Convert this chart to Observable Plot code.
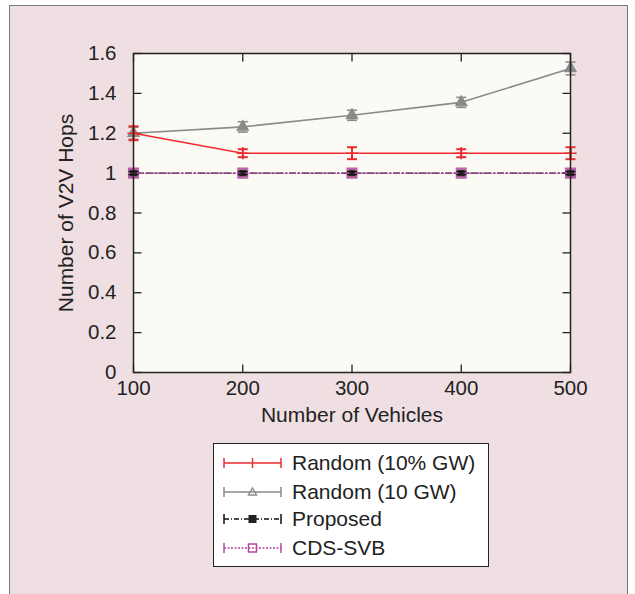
<!DOCTYPE html>
<html>
<head>
<meta charset="utf-8">
<script src="https://cdn.jsdelivr.net/npm/d3@7"></script>
<script src="https://cdn.jsdelivr.net/npm/@observablehq/plot@0.6"></script>
<style>
  html, body { margin:0; padding:0; background:#fff; overflow:hidden; }
  #wrap { position:relative; width:635px; height:594px; overflow:hidden; font-family:"Liberation Sans", Arial, Helvetica, sans-serif; }
  #frame { position:absolute; left:9px; top:5px; width:619px; height:600px; background:#efdfe2; border:1.5px solid #7a7a7a; box-sizing:border-box; }
  #chart { position:absolute; left:0; top:0; }
  #legend { position:absolute; left:213px; top:443px; width:276px; height:124px; background:#fff; border:1.5px solid #222; box-sizing:border-box; }
  .row { position:absolute; left:0; height:24px; display:flex; align-items:center; }
  .row svg { margin-left:9px; }
  .row span { margin-left:7px; font-size:21px; color:#222; line-height:24px; }
</style>
</head>
<body>
<div id="wrap">
  <div id="frame"></div>
  <div id="chart"></div>
  <div id="legend"></div>
</div>
<script>
// ---- data ----
const vehicles = [100, 200, 300, 400, 500];
const random10pct = [1.2, 1.1, 1.1, 1.1, 1.1];
const random10pctErr = [0.035, 0.02, 0.03, 0.02, 0.03];
const random10gw = [1.2, 1.232, 1.29, 1.355, 1.525];
const random10gwErr = [0.03, 0.026, 0.025, 0.025, 0.032];
const proposed = [1, 1, 1, 1, 1];
const proposedErr = [0.008, 0.008, 0.008, 0.008, 0.008];
const cdssvb = [1, 1, 1, 1, 1];
const cdssvbErr = [0.008, 0.008, 0.008, 0.008, 0.008];
const seriesNames = ["Random (10% GW)", "Random (10 GW)", "Proposed", "CDS-SVB"];
const xTicks = [100, 200, 300, 400, 500];
const yTicks = [0, 0.2, 0.4, 0.6, 0.8, 1, 1.2, 1.4, 1.6];
const yTickLabels = ["0", "0.2", "0.4", "0.6", "0.8", "1", "1.2", "1.4", "1.6"];
const xLabel = "Number of Vehicles";
const yLabel = "Number of V2V Hops";

const colors = {red: "#ee2a2f", gray: "#8a8a8a", black: "#111", magenta: "#b347a0"};

function rows(vals, errs, name) {
  return vehicles.map((x, i) => ({x, y: vals[i], lo: vals[i] - errs[i], hi: vals[i] + errs[i], name}));
}
const dRed = rows(random10pct, random10pctErr, seriesNames[0]);
const dGray = rows(random10gw, random10gwErr, seriesNames[1]);
const dProp = rows(proposed, proposedErr, seriesNames[2]);
const dCds = rows(cdssvb, cdssvbErr, seriesNames[3]);

// custom symbols
const capSym = {draw(ctx) { ctx.moveTo(-5, 0); ctx.lineTo(5, 0); }};
const tickIn = (dx, dy) => ({draw(ctx) { ctx.moveTo(0, 0); ctx.lineTo(dx, dy); }});

function errMarks(d, color, w) {
  return [
    Plot.ruleX(d, {x: "x", y1: "lo", y2: "hi", stroke: color, strokeWidth: w}),
    Plot.dot(d, {x: "x", y: "lo", symbol: capSym, stroke: color, strokeWidth: w, fill: "none"}),
    Plot.dot(d, {x: "x", y: "hi", symbol: capSym, stroke: color, strokeWidth: w, fill: "none"})
  ];
}

const chart = Plot.plot({
  width: 635,
  height: 430,
  marginLeft: 133,
  marginRight: 65,
  marginTop: 53,
  marginBottom: 58,
  style: {background: "transparent", fontFamily: "'Liberation Sans', Arial, Helvetica, sans-serif", fontSize: "20px", color: "#222"},
  x: {domain: [100, 500]},
  y: {domain: [0, 1.6]},
  marks: [
    Plot.frame({fill: "#fbfaf5", stroke: "none"}),
    // inward ticks on all four sides
    Plot.dot(yTicks, {x: () => 100, y: d => d, symbol: tickIn(8, 0), stroke: "#222", strokeWidth: 1.3, fill: "none"}),
    Plot.dot(yTicks, {x: () => 500, y: d => d, symbol: tickIn(-8, 0), stroke: "#222", strokeWidth: 1.3, fill: "none"}),
    Plot.dot(xTicks, {x: d => d, y: () => 0, symbol: tickIn(0, -8), stroke: "#222", strokeWidth: 1.3, fill: "none"}),
    Plot.dot(xTicks, {x: d => d, y: () => 1.6, symbol: tickIn(0, 8), stroke: "#222", strokeWidth: 1.3, fill: "none"}),
    Plot.axisX({ticks: xTicks, tickSize: 0, tickPadding: 8, label: null, fontSize: 20.5}),
    Plot.axisY({ticks: yTicks, tickSize: 0, tickPadding: 17, label: null, fontSize: 20.5,
      tickFormat: d => yTickLabels[yTicks.findIndex(t => Math.abs(t - d) < 1e-9)]}),
    Plot.text([xLabel], {text: d => d, frameAnchor: "bottom", textAnchor: "middle", dy: 43, lineAnchor: "middle", fontSize: 21, fill: "#222"}),
    Plot.text([yLabel], {text: d => d, frameAnchor: "left", textAnchor: "middle", dx: -67, rotate: -90, fontSize: 21, fill: "#222"}),
    // lines
    Plot.line(dGray, {x: "x", y: "y", stroke: colors.gray, strokeWidth: 1.6}),
    ...errMarks(dGray, colors.gray, 1.6),
    Plot.dot(dGray, {x: "x", y: "y", symbol: "triangle", r: 4, fill: colors.gray, stroke: colors.gray}),
    Plot.line(dRed, {x: "x", y: "y", stroke: colors.red, strokeWidth: 1.6}),
    ...errMarks(dRed, colors.red, 2),
    Plot.dot(dRed, {x: "x", y: "y", symbol: "plus", r: 4, stroke: colors.red, strokeWidth: 1.6}),
    Plot.line(dProp, {x: "x", y: "y", stroke: colors.black, strokeWidth: 1.3, strokeDasharray: "6,3,1,3"}),
    Plot.line(dCds, {x: "x", y: "y", stroke: colors.magenta, strokeWidth: 1.4, strokeDasharray: "2,2"}),
    Plot.dot(dProp, {x: "x", y: "y", symbol: "square", r: 4, fill: "#333", stroke: "none"}),
    Plot.dot(dCds, {x: "x", y: "y", symbol: "square", r: 5, fill: "none", stroke: colors.magenta, strokeWidth: 2.2, strokeOpacity: 0.85}),
    ...errMarks(dProp, colors.black, 1.3),
    Plot.frame({stroke: "#222", strokeWidth: 1.5})
  ]
});
document.getElementById("chart").appendChild(chart);

// legend
const legendSpecs = [
  {name: seriesNames[0], color: colors.red, dash: null, marker: "plus"},
  {name: seriesNames[1], color: colors.gray, dash: null, marker: "triangle"},
  {name: seriesNames[2], color: colors.black, dash: "5,2,1,2", marker: "fsquare"},
  {name: seriesNames[3], color: colors.magenta, dash: "2,1.5", marker: "hsquare"}
];
const rowTops = [7, 36, 63, 92];
const legend = document.getElementById("legend");
legendSpecs.forEach((s, i) => {
  const row = document.createElement("div");
  row.className = "row";
  row.style.top = rowTops[i] + "px";
  const ns = "http://www.w3.org/2000/svg";
  const svg = document.createElementNS(ns, "svg");
  svg.setAttribute("width", 62); svg.setAttribute("height", 16);
  const add = (tag, attrs) => { const e = document.createElementNS(ns, tag); for (const k in attrs) e.setAttribute(k, attrs[k]); svg.appendChild(e); return e; };
  const ln = add("line", {x1: 1, x2: 58, y1: 8, y2: 8, stroke: s.color, "stroke-width": 1.5});
  if (s.dash) ln.setAttribute("stroke-dasharray", s.dash);
  add("line", {x1: 1, x2: 1, y1: 3, y2: 13, stroke: s.color, "stroke-width": 1.5});
  add("line", {x1: 58, x2: 58, y1: 3, y2: 13, stroke: s.color, "stroke-width": 1.5});
  if (s.marker === "plus") {
    add("line", {x1: 29.5, x2: 29.5, y1: 3, y2: 13, stroke: s.color, "stroke-width": 1.5});
  } else if (s.marker === "triangle") {
    add("path", {d: "M29.5,4 L33.5,11 L25.5,11 Z", fill: "none", stroke: s.color, "stroke-width": 1.4});
  } else if (s.marker === "fsquare") {
    add("rect", {x: 25.5, y: 4, width: 8, height: 8, fill: "#222"});
  } else {
    add("rect", {x: 25.5, y: 4, width: 8, height: 8, fill: "none", stroke: s.color, "stroke-width": 1.5});
  }
  row.appendChild(svg);
  const sp = document.createElement("span");
  sp.textContent = s.name;
  row.appendChild(sp);
  legend.appendChild(row);
});
</script>
</body>
</html>
